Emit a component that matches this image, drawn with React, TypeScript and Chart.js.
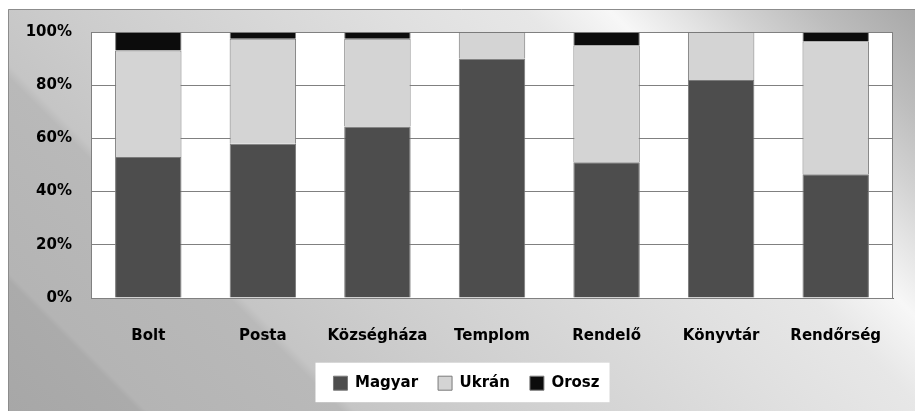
import React, { useEffect, useRef } from "react";
import { Chart, registerables } from "chart.js";

Chart.register(...registerables);

// Share of each language at each place (percent, stacked to 100)
const categories = ["Bolt", "Posta", "Községháza", "Templom", "Rendelő", "Könyvtár", "Rendőrség"];
const magyar = [53, 58, 64.5, 90, 51, 82, 46.5];
const ukran = [40, 39.5, 33, 10, 44, 18, 50];
const orosz = [7, 2.5, 2.5, 0, 5, 0, 3.5];
const seriesNames = ["Magyar", "Ukrán", "Orosz"];
const yTicks = [0, 20, 40, 60, 80, 100];

const FONT = "'DejaVu Sans', Verdana, sans-serif";

// Grey panel with soft diagonal bands, plus the white plot area and legend box
const backdrop = {
  id: "backdrop",
  afterLayout(chart: any) {
    // legend sits a little right of the canvas centre
    const lg = chart.legend;
    if (lg) {
      lg.left += 20;
      lg.right += 20;
    }
  },
  beforeDraw(chart: any) {
    const { ctx, width, height, chartArea } = chart;
    ctx.save();
    ctx.fillStyle = "#ffffff";
    ctx.fillRect(0, 0, width, height);
    const g = ctx.createLinearGradient(0, 403, 655, -252);
    g.addColorStop(0, "#a7a7a7");
    g.addColorStop(0.1, "#ababab");
    g.addColorStop(0.106, "#b4b4b4");
    g.addColorStop(0.255, "#b9b9b9");
    g.addColorStop(0.265, "#c5c5c5");
    g.addColorStop(0.36, "#cdcdcd");
    g.addColorStop(0.5, "#d8d8d8");
    g.addColorStop(0.6, "#e0e0e0");
    g.addColorStop(0.7, "#e7e7e7");
    g.addColorStop(0.765, "#f7f7f7");
    g.addColorStop(0.81, "#e6e6e6");
    g.addColorStop(0.86, "#d2d2d2");
    g.addColorStop(0.92, "#bdbdbd");
    g.addColorStop(1, "#a8a8a8");
    ctx.fillStyle = g;
    ctx.fillRect(8, 9, width - 8, height - 9);
    ctx.strokeStyle = "#8c8c8c";
    ctx.lineWidth = 1;
    ctx.beginPath();
    ctx.moveTo(8.5, height);
    ctx.lineTo(8.5, 9.5);
    ctx.lineTo(width, 9.5);
    ctx.stroke();

    // plot area
    ctx.fillStyle = "#ffffff";
    ctx.fillRect(chartArea.left, chartArea.top, chartArea.right - chartArea.left, chartArea.bottom - chartArea.top);

    // legend box
    const hb = chart.legend && chart.legend.legendHitBoxes;
    if (hb && hb.length) {
      const first = hb[0];
      const last = hb[hb.length - 1];
      const cy = first.top + first.height / 2;
      const x0 = first.left - 18;
      const x1 = last.left + last.width + 10;
      ctx.fillStyle = "#ffffff";
      ctx.fillRect(x0, cy - 20.5, x1 - x0, 39.5);
    }
    ctx.restore();
  },
  beforeDatasetsDraw(chart: any) {
    const { ctx, chartArea } = chart;
    ctx.save();
    ctx.strokeStyle = "#808080";
    ctx.lineWidth = 1;
    ctx.strokeRect(
      Math.round(chartArea.left) + 0.5,
      Math.round(chartArea.top) + 0.5,
      Math.round(chartArea.right - chartArea.left) - 1,
      Math.round(chartArea.bottom - chartArea.top)
    );
    ctx.restore();
  },
};

export default function App() {
  const ref = useRef<HTMLCanvasElement>(null);

  useEffect(() => {
    if (!ref.current) return;
    const chart = new Chart(ref.current, {
      type: "bar",
      data: {
        labels: categories,
        datasets: [
          { label: seriesNames[0], data: magyar, backgroundColor: "#4d4d4d", borderColor: "#7a7a7a", borderWidth: 1 },
          { label: seriesNames[1], data: ukran, backgroundColor: "#d4d4d4", borderColor: "#7a7a7a", borderWidth: 1 },
          { label: seriesNames[2], data: orosz, backgroundColor: "#0c0c0c", borderColor: "#7a7a7a", borderWidth: 1 },
        ],
      },
      options: {
        responsive: false,
        animation: false,
        events: [],
        layout: { padding: { left: 0, top: 32, right: 22, bottom: 10.3 } },
        datasets: { bar: { barPercentage: 0.58, categoryPercentage: 1 } },
        scales: {
          x: {
            stacked: true,
            grid: { display: false, drawTicks: false },
            border: { display: true, color: "#707070", width: 1 },
            ticks: { padding: 29, color: "#000000", font: { family: FONT, size: 15, weight: "bold" } },
            afterFit: (s: any) => { s.height = 57.7; },
          },
          y: {
            stacked: true,
            min: 0,
            max: 100,
            afterBuildTicks: (s: any) => { s.ticks = yTicks.map((v) => ({ value: v })); },
            grid: { color: "#808080", lineWidth: 1, drawTicks: false },
            border: { display: true, color: "#808080" },
            ticks: {
              padding: 19,
              color: "#000000",
              font: { family: FONT, size: 15, weight: "bold" },
              callback: (v: any) => v + "%",
            },
            afterFit: (s: any) => { s.width = 91; },
          },
        },
        plugins: {
          tooltip: { enabled: false },
          legend: {
            position: "bottom",
            labels: {
              boxWidth: 14,
              boxHeight: 14,
              padding: 20,
              color: "#000000",
              font: { family: FONT, size: 15, weight: "bold" },
            },
          },
        },
      },
      plugins: [backdrop],
    });
    return () => chart.destroy();
  }, []);

  return (
    <div style={{ position: "fixed", left: 0, top: 0, width: 915, height: 411 }}>
      <canvas ref={ref} width={915} height={411} style={{ display: "block" }} />
    </div>
  );
}
